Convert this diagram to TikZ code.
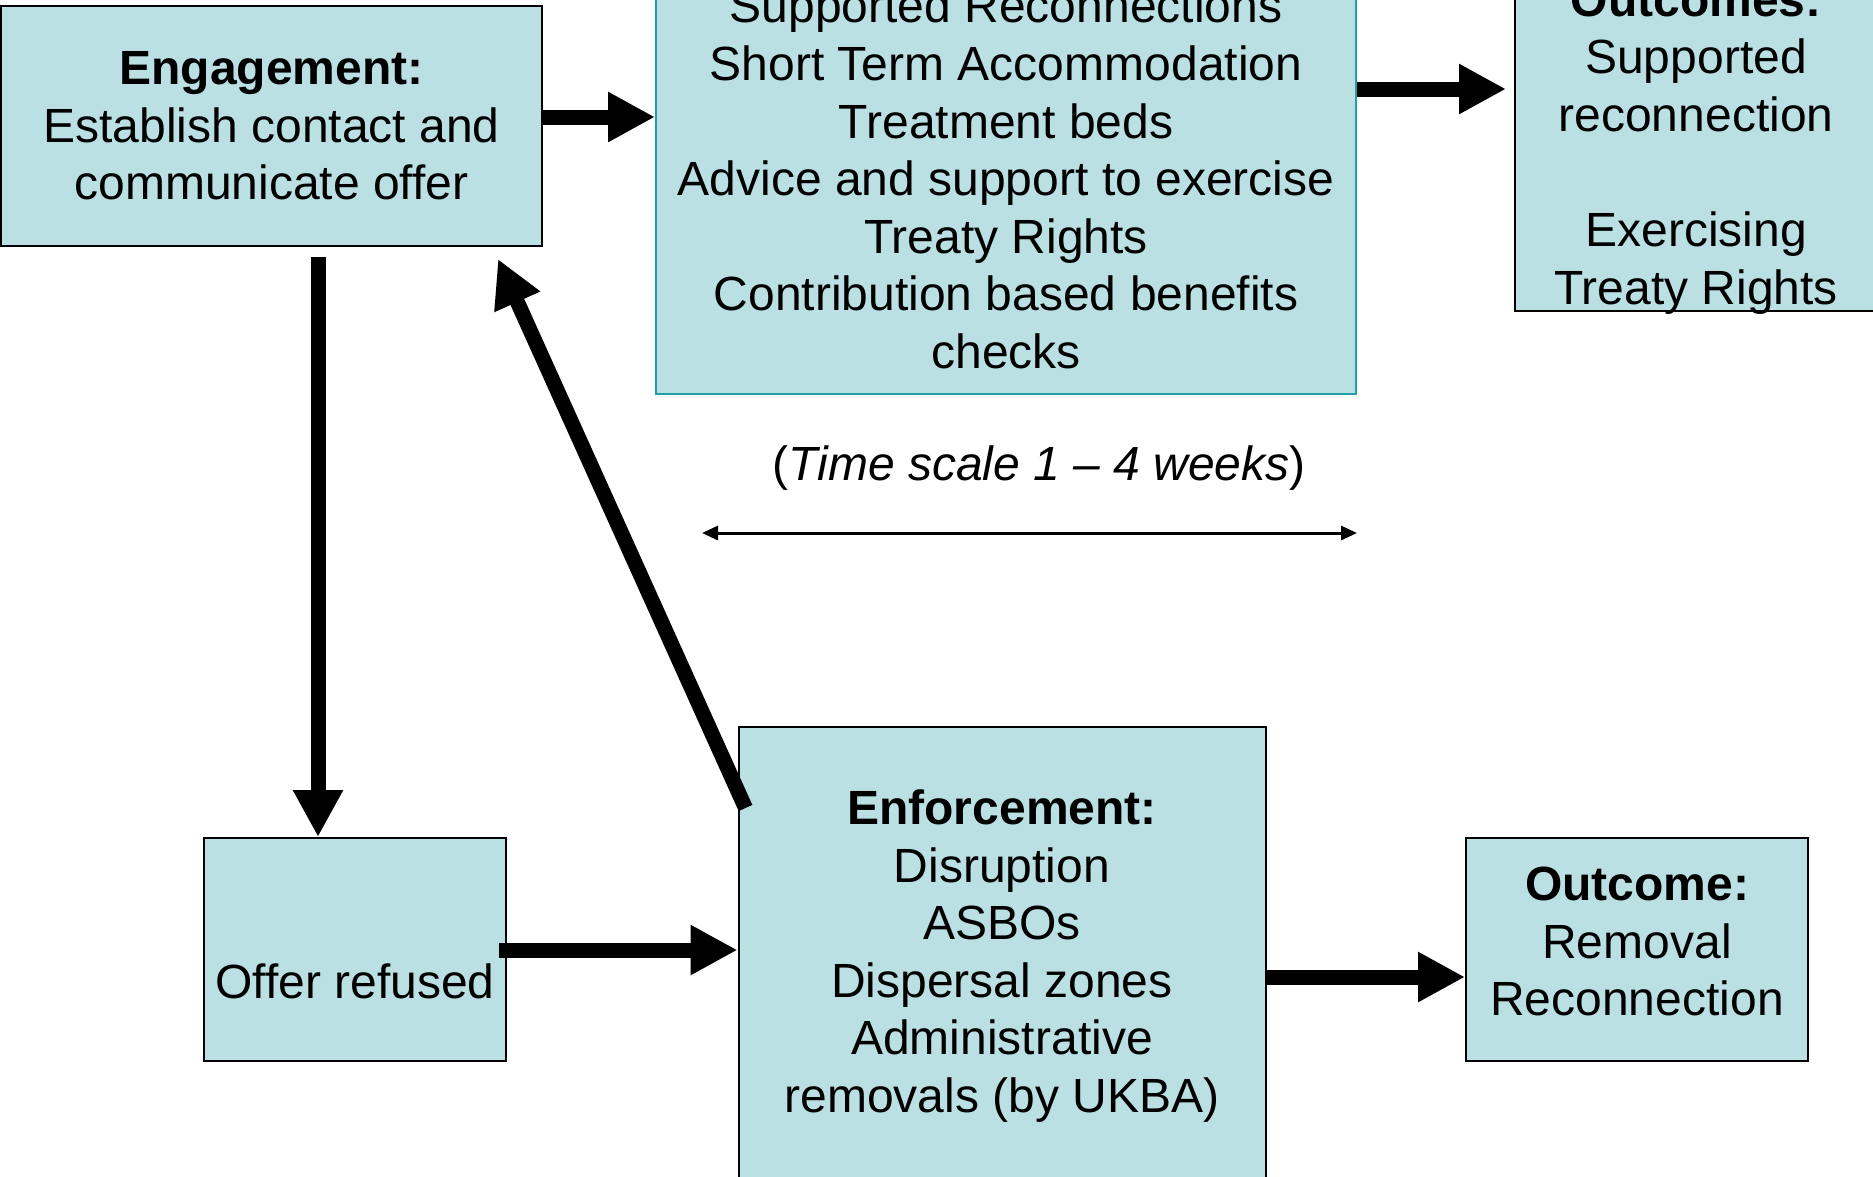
\documentclass[tikz,border=0pt]{standalone}
\usepackage{fontspec}
\setmainfont{Liberation Sans}
\usetikzlibrary{arrows.meta, positioning, calc}

\definecolor{boxfill}{RGB}{187,224,227}
\definecolor{boxteal}{RGB}{32,160,160}

\begin{document}
\begin{tikzpicture}[
    x=0.1mm, y=-0.1mm,
    font=\fontsize{13.66pt}{16.39pt}\selectfont,
    box/.style={draw=black, line width=0.2mm, fill=boxfill, align=center, inner sep=0pt},
    bigarrow/.style={line width=1.5mm, -{Triangle[length=4.7mm, width=4.7mm]}},
    timearrow/.style={line width=0.3mm, {Triangle[length=1.6mm, width=1.4mm]}-{Triangle[length=1.6mm, width=1.4mm]}}
]
    \useasboundingbox (0,0) rectangle (1873,1176);
    \clip (0,0) rectangle (1873,1176);

    % top row
    \node[box, minimum width=54.1mm, minimum height=24mm] (engage) at (271.5,126)
        {\textbf{Engagement:}\\Establish contact and\\communicate offer};
    \node[box, draw=boxteal, minimum width=70mm, minimum height=43.1mm] (offer) at (1006,178.5)
        {Supported Reconnections\\Short Term Accommodation\\Treatment beds\\Advice and support to exercise\\Treaty Rights\\Contribution based benefits\\checks};
    \node[box, minimum width=36.2mm, minimum height=33.5mm, text depth=0pt] (outcomes) at (1696,143.5)
        {\textbf{Outcomes:}\\Supported\\reconnection\\[5.76mm]Exercising\\Treaty Rights};

    % bottom row
    \node[box, minimum width=30.2mm, minimum height=22.3mm] (refused) at (355,949.5)
        {\strut\\Offer refused};
    \node[box, minimum width=52.7mm, minimum height=45.8mm] (enforce) at (1002,956)
        {\textbf{Enforcement:}\\Disruption\\ASBOs\\Dispersal zones\\Administrative\\removals (by UKBA)};
    \node[box, minimum width=34.2mm, minimum height=22.3mm, text depth=1.6mm] (outcome) at (1637,949.5)
        {\textbf{Outcome:}\\Removal\\Reconnection};

    % time scale
    \node[anchor=base] (timescale) at (1039,480) {(\textit{Time scale 1 – 4 weeks})};
    \coordinate (tleft) at (702,533);
    \draw[timearrow] (tleft) -- (tleft -| offer.east);

    % flow
    \draw[bigarrow] (engage.east |- 0,117) -- (offer.west |- 0,117);
    \draw[bigarrow, shorten >=0.8mm] (offer.east |- 0,89) -- (outcomes.west |- 0,89);
    \draw[bigarrow, shorten <=1mm] (engage.south -| 318,0) -- (refused.north -| 318,0);
    \draw[bigarrow, shorten <=-0.8mm] (refused.east |- 0,950) -- (enforce.west |- 0,950);
    \draw[bigarrow] ($(enforce.north west)+(8,82)$) -- ($(engage.south east)+(-45,12)$);
    \draw[bigarrow] (enforce.east |- 0,977) -- (outcome.west |- 0,977);
\end{tikzpicture}
\end{document}
